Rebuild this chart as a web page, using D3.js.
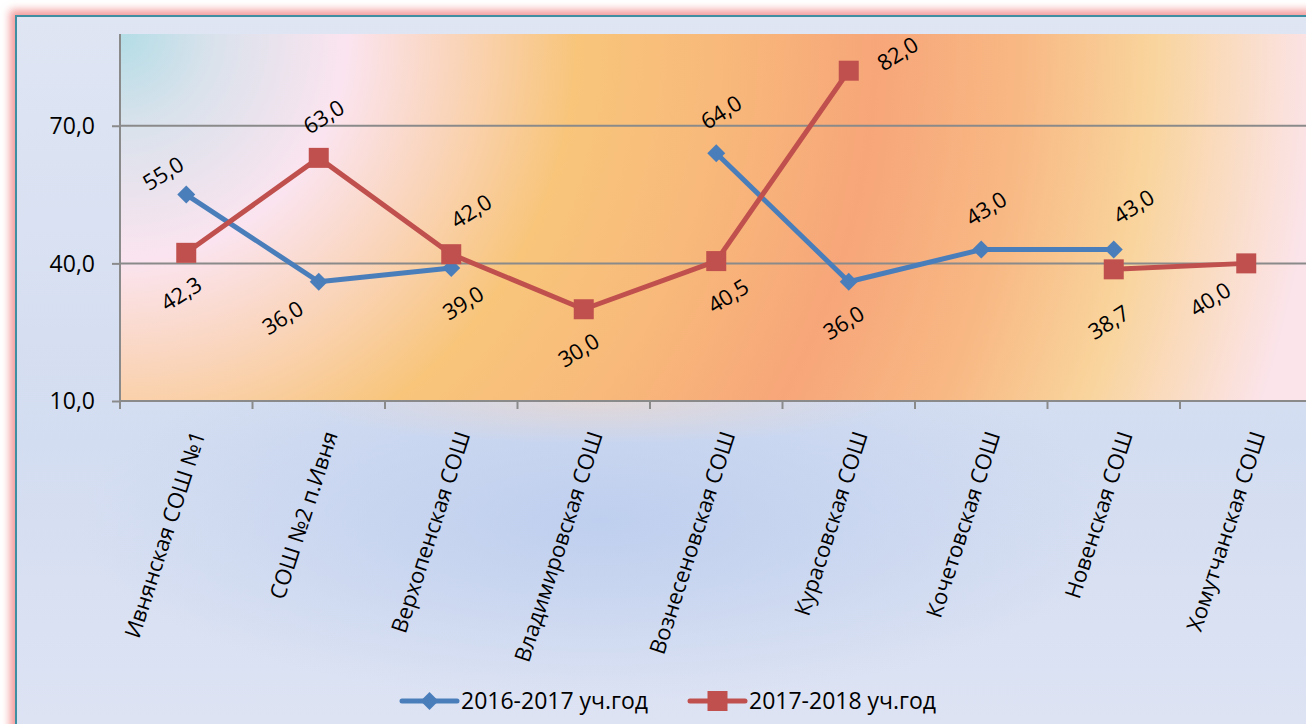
<!DOCTYPE html>
<html><head><meta charset="utf-8">
<script src="https://cdn.jsdelivr.net/npm/d3@7"></script>
<style>html,body{margin:0;padding:0;background:#fff;overflow:hidden}svg{display:block}</style>
</head><body><svg id="c" width="1306" height="724"></svg>
<script>
const categories = ['Ивнянская СОШ №1','СОШ №2 п.Ивня','Верхопенская СОШ','Владимировская СОШ','Вознесеновская СОШ','Курасовская СОШ','Кочетовская СОШ','Новенская СОШ','Хомутчанская СОШ'];
const values2016 = [55.0, 36.0, 39.0, null, 64.0, 36.0, 43.0, 43.0, null];
const values2017 = [42.3, 63.0, 42.0, 30.0, 40.5, 82.0, null, 38.7, 40.0];
const seriesNames = ['2016-2017 уч.год','2017-2018 уч.год'];
const yTicks = [10, 40, 70];
const yDomain = [10, 90];
// label placement codes (style only)
const labelPlace2016 = ['tl','bl','br',null,'t','b','t','tr',null];
const labelPlace2017 = ['b','t','tr','b','br','r',null,'bb','bl'];
const placeOffsets = {tl:[-23,-21], t:[5,-41], tr:[20,-43], b:[-5,41], bb:[-5,53], bl:[-36,36], br:[12,35], r:[49,-17]};

const FONT = "'Open Sans', 'Noto Sans', sans-serif";
const svg = d3.select('#c');
const defs = svg.append('defs');

const glow = defs.append('filter').attr('id','glow').attr('x','-5%').attr('y','-5%').attr('width','110%').attr('height','110%');
glow.append('feGaussianBlur').attr('stdDeviation',4);

const bgGrad = defs.append('linearGradient').attr('id','bg').attr('gradientUnits','userSpaceOnUse')
  .attr('x1',0).attr('y1',16).attr('x2',0).attr('y2',724);
bgGrad.append('stop').attr('offset',0).attr('stop-color','#dfe5f3');
bgGrad.append('stop').attr('offset',0.6).attr('stop-color','#d3ddf1');
bgGrad.append('stop').attr('offset',1).attr('stop-color','#dde3f3');

const blueGlow = defs.append('radialGradient').attr('id','blueglow').attr('gradientUnits','userSpaceOnUse')
  .attr('cx',600).attr('cy',520).attr('r',520).attr('gradientTransform','translate(600,520) scale(1,0.35) translate(-600,-520)');
blueGlow.append('stop').attr('offset',0).attr('stop-color','#bccdee').attr('stop-opacity',0.9);
blueGlow.append('stop').attr('offset',1).attr('stop-color','#bccdee').attr('stop-opacity',0);

const peachGlow = defs.append('radialGradient').attr('id','peachglow').attr('gradientUnits','userSpaceOnUse')
  .attr('cx',600).attr('cy',402).attr('r',300).attr('gradientTransform','translate(600,402) scale(1,0.14) translate(-600,-402)');
peachGlow.append('stop').attr('offset',0).attr('stop-color','#eed6c8').attr('stop-opacity',0.6);
peachGlow.append('stop').attr('offset',1).attr('stop-color','#eed6c8').attr('stop-opacity',0);

const plotGrad = defs.append('radialGradient').attr('id','plotbg').attr('gradientUnits','userSpaceOnUse')
  .attr('cx',120).attr('cy',34).attr('r',1200).attr('fx',120).attr('fy',34);
[[0,'#b3dde6'],[0.08,'#dae2ec'],[0.19,'#fbe4ef'],[0.27,'#fad6c0'],[0.38,'#f8c57b'],[0.5,'#f8b97a'],[0.63,'#f7a679'],[0.75,'#f8b884'],[0.86,'#f9d49c'],[1,'#fbe4ea']]
  .forEach(([o,c])=>plotGrad.append('stop').attr('offset',o).attr('stop-color',c));

svg.append('rect').attr('x',0).attr('y',0).attr('width',1306).attr('height',724).attr('fill','#ffffff');
svg.append('rect').attr('x',10).attr('y',10).attr('width',1400).attr('height',800).attr('fill','#f39a9a').attr('filter','url(#glow)');
svg.append('rect').attr('x',16).attr('y',16).attr('width',1400).attr('height',800).attr('fill','url(#bg)')
  .attr('stroke','#3f8fa3').attr('stroke-width',2);
svg.append('rect').attr('x',17).attr('y',17).attr('width',1400).attr('height',800).attr('fill','url(#blueglow)');
svg.append('rect').attr('x',17).attr('y',17).attr('width',1400).attr('height',800).attr('fill','url(#peachglow)');

const m = {left:120, top:34, bottom:401};
const step = 132.5;
const x = d3.scaleBand().domain(categories).range([m.left, m.left + step*categories.length]).paddingInner(0).paddingOuter(0);
const y = d3.scaleLinear().domain(yDomain).range([m.bottom, m.top]);
const cx = c => x(c) + x.bandwidth()/2;

svg.append('rect').attr('x',m.left).attr('y',m.top).attr('width',x.range()[1]-m.left).attr('height',m.bottom-m.top).attr('fill','url(#plotbg)');

svg.append('g').selectAll('line').data(yTicks.filter(t=>t>yDomain[0])).join('line')
  .attr('x1',m.left).attr('x2',x.range()[1]).attr('y1',d=>y(d)).attr('y2',d=>y(d))
  .attr('stroke','#8a8a8a').attr('stroke-width',2);

const yAxis = svg.append('g').attr('transform',`translate(${m.left},0)`)
  .call(d3.axisLeft(y).tickValues(yTicks).tickSize(8).tickPadding(17).tickFormat(d=>d3.format('.1f')(d).replace('.',',')));
yAxis.select('.domain').attr('stroke','#8a8a8a').attr('stroke-width',2).attr('d',`M0,${m.top}V${m.bottom}`);
yAxis.selectAll('.tick line').attr('stroke','#8a8a8a').attr('stroke-width',2);
yAxis.selectAll('.tick text').attr('font-family',FONT).attr('font-size',23).attr('fill','#000').attr('dy','0.34em');

const xAxis = svg.append('g').attr('transform',`translate(0,${m.bottom})`);
xAxis.append('line').attr('x1',m.left).attr('x2',x.range()[1]).attr('stroke','#8a8a8a').attr('stroke-width',2);
xAxis.selectAll('line.tk').data(d3.range(categories.length+1)).join('line').attr('class','tk')
  .attr('x1',i=>m.left+i*x.step()).attr('x2',i=>m.left+i*x.step()).attr('y1',0).attr('y2',8)
  .attr('stroke','#8a8a8a').attr('stroke-width',2);
xAxis.selectAll('text').data(categories).join('text')
  .attr('transform',d=>`translate(${cx(d)+12},${31}) rotate(-72)`)
  .attr('text-anchor','end').attr('dy','0.35em')
  .attr('font-family',FONT).attr('font-size',22).attr('fill','#000').text(d=>d);

const blue = '#4a7ebb', red = '#c0504d';
const data = [
  {name:seriesNames[0], values:values2016, color:blue, shape:'diamond', place:labelPlace2016},
  {name:seriesNames[1], values:values2017, color:red, shape:'square', place:labelPlace2017}
];
const line = d3.line().defined(d=>d.v!=null).x(d=>cx(d.c)).y(d=>y(d.v));

function marker(g, shape, color){
  if(shape==='diamond'){
    g.append('path').attr('d','M0,-9L9,0L0,9L-9,0Z').attr('fill',color);
  } else {
    g.append('rect').attr('x',-10).attr('y',-10).attr('width',20).attr('height',20).attr('fill',color);
  }
}

data.forEach(s=>{
  const pts = categories.map((c,i)=>({c, v:s.values[i], p:s.place[i]}));
  svg.append('path').datum(pts).attr('d',line).attr('fill','none').attr('stroke',s.color)
    .attr('stroke-width',5).attr('stroke-linejoin','round');
  pts.filter(d=>d.v!=null).forEach(d=>{
    const g = svg.append('g').attr('transform',`translate(${cx(d.c)},${y(d.v)})`);
    marker(g, s.shape, s.color);
  });
});
data.forEach(s=>{
  const pts = categories.map((c,i)=>({c, v:s.values[i], p:s.place[i]}));
  svg.append('g').selectAll('text').data(pts.filter(d=>d.v!=null)).join('text')
    .attr('transform',d=>{const o=placeOffsets[d.p]; return `translate(${cx(d.c)+o[0]},${y(d.v)+o[1]}) rotate(-32)`;})
    .attr('text-anchor','middle').attr('dy','0.35em')
    .attr('font-family',FONT).attr('font-size',22).attr('fill','#000')
    .text(d=>d3.format('.1f')(d.v).replace('.',','));
});

const legendItems = [{x:402, s:data[0]},{x:690, s:data[1]}];
const ly = 701;
legendItems.forEach(({x:lx,s})=>{
  const g = svg.append('g').attr('transform',`translate(${lx},${ly})`);
  g.append('line').attr('x1',0).attr('x2',55).attr('stroke',s.color).attr('stroke-width',5).attr('stroke-linecap','round');
  const mg = g.append('g').attr('transform','translate(27.5,0)');
  marker(mg, s.shape, s.color);
  g.append('text').attr('x',59).attr('dy','0.35em').attr('font-family',FONT).attr('font-size',23).attr('fill','#000').text(s.name);
});
</script></body></html>
